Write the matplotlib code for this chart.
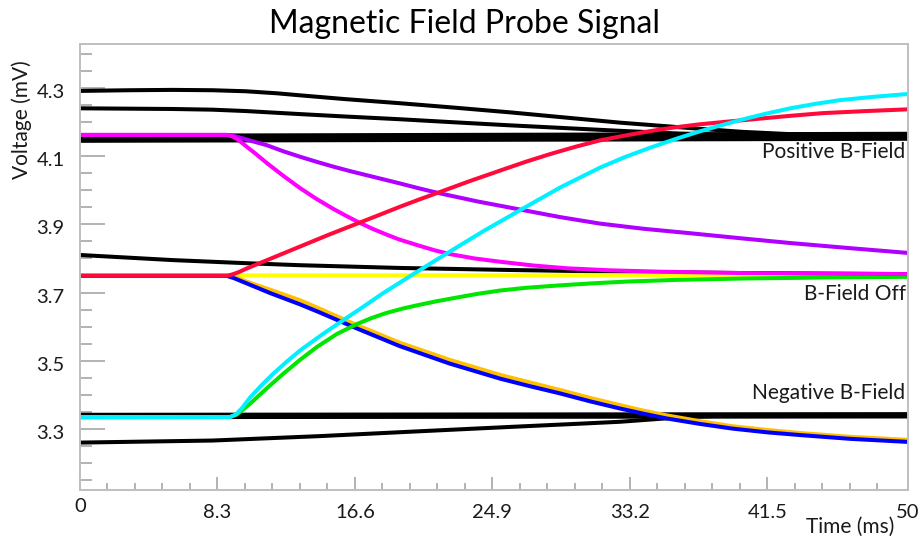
import matplotlib

matplotlib.use("Agg")
import matplotlib.pyplot as plt
from matplotlib.transforms import ScaledTranslation

plt.rcParams["font.family"] = ["Lato", "DejaVu Sans"]

# black reference traces
t_pos_a = [0, 3, 5.6, 8, 10, 11.9, 13.3, 16, 19.3, 22.6, 26, 29.3, 32.6, 35, 37.4, 40, 43, 46, 50]
v_pos_a = [4.291, 4.293, 4.294, 4.293, 4.29, 4.284, 4.278, 4.267, 4.255, 4.242, 4.228, 4.213, 4.198, 4.189, 4.18, 4.171, 4.164, 4.161, 4.16]
t_pos_b = [0, 5.6, 8, 10, 13.3, 16, 19.3, 22.6, 26, 29.3, 32.6, 36.2, 39, 42, 50]
v_pos_b = [4.24, 4.238, 4.236, 4.232, 4.223, 4.216, 4.208, 4.199, 4.19, 4.182, 4.174, 4.166, 4.163, 4.161, 4.159]
t_pos_band = [0, 25, 50]
v_pos_band = [4.152, 4.155, 4.158]
t_off = [0, 5.6, 10, 13.3, 19.3, 26, 32.6, 40, 50]
v_off = [3.81, 3.795, 3.786, 3.78, 3.772, 3.766, 3.761, 3.757, 3.754]
t_neg_band = [0, 25, 50]
v_neg_band = [3.338, 3.339, 3.34]
t_neg_b = [0, 8, 14.5, 20, 26, 30, 32.6, 34, 35.4, 37, 38.5, 50]
v_neg_b = [3.26, 3.266, 3.279, 3.292, 3.306, 3.315, 3.321, 3.326, 3.331, 3.336, 3.338, 3.34]

# coloured traces
t_yellow = [0, 50]
v_yellow = [3.75, 3.751]
t_orange = [0, 8.85, 9.3, 10, 11.5, 13.3, 14.5, 16.6, 19.3, 22.3, 25.4, 27.2, 29, 30.8, 32.6,
            34, 35.4, 37.4, 39.4, 41.5, 43.5, 46.5, 50]
v_orange = [3.749, 3.749, 3.747, 3.733, 3.708, 3.677, 3.652, 3.607, 3.553, 3.503, 3.458, 3.436, 3.414,
            3.391, 3.37, 3.354, 3.34, 3.323, 3.308, 3.297, 3.288, 3.277, 3.268]
t_blue = [0, 8.85, 9.3, 10, 11.5, 13.3, 14.5, 16.6, 19.3, 22.3, 25.4, 27.2, 29, 30.8, 32.6,
          34, 35.4, 37.4, 39.4, 41.5, 43.5, 46.5, 50]
v_blue = [3.749, 3.749, 3.742, 3.728, 3.698, 3.665, 3.641, 3.597, 3.543, 3.492, 3.447, 3.425, 3.404,
          3.381, 3.36, 3.345, 3.331, 3.315, 3.301, 3.29, 3.282, 3.271, 3.262]
t_green = [0, 9.06, 9.5, 10.27, 11.3, 12.28, 13.3, 14.3, 15.5, 16.7, 17.6, 18.5, 19.5, 20.5, 21.5,
           22.5, 24, 25.4, 27, 29, 31, 33, 36, 40, 45, 50]
v_green = [3.335, 3.335, 3.343, 3.374, 3.42, 3.462, 3.503, 3.54, 3.578, 3.607, 3.625, 3.64, 3.653,
           3.664, 3.674, 3.683, 3.696, 3.706, 3.714, 3.721, 3.727, 3.732, 3.737, 3.741, 3.744, 3.746]
t_purple = [0, 8.85, 9.2, 9.6, 10.3, 11.27, 12.28, 13.29, 14.3, 15.3, 16.3, 17.3, 18.3, 19.3, 20.5,
            21.7, 24, 26.6, 29, 31.4, 34, 36.8, 39.9, 42.9, 46.5, 50]
v_purple = [4.162, 4.162, 4.16, 4.155, 4.145, 4.132, 4.114, 4.098, 4.083, 4.069, 4.056, 4.044, 4.032,
            4.02, 4.005, 3.991, 3.967, 3.943, 3.921, 3.902, 3.887, 3.874, 3.859, 3.845, 3.83, 3.816]
t_magenta = [0, 8.85, 9.2, 9.6, 10, 10.6, 11.27, 12.28, 13.29, 14.29, 15.3, 16.1, 16.9, 17.7, 18.5,
             19.3, 20.5, 21.4, 22.3, 23.8, 25.4, 27.4, 29.4, 32, 35, 40, 45, 50]
v_magenta = [4.162, 4.162, 4.158, 4.146, 4.13, 4.107, 4.08, 4.042, 4.006, 3.974, 3.945, 3.924, 3.904,
             3.886, 3.87, 3.855, 3.837, 3.824, 3.813, 3.8, 3.79, 3.779, 3.771, 3.765, 3.761, 3.757,
             3.755, 3.754]
t_red = [0, 8.85, 9.2, 9.6, 10, 11, 12, 13, 14, 15, 16, 17, 18, 19.3, 20.5, 21.7, 23.5, 25.4, 26.9,
         28.4, 29.9, 31.4, 32.9, 34.4, 35.9, 37.4, 39.1, 40.9, 42.9, 44.9, 47.5, 50]
v_red = [3.749, 3.749, 3.753, 3.76, 3.769, 3.789, 3.809, 3.829, 3.849, 3.869, 3.888, 3.907, 3.926,
         3.951, 3.973, 3.994, 4.026, 4.058, 4.083, 4.106, 4.127, 4.146, 4.16, 4.173, 4.184, 4.193,
         4.201, 4.209, 4.218, 4.226, 4.232, 4.237]
t_cyan = [0, 9.06, 9.4, 9.8, 10.27, 10.9, 11.67, 12.5, 13.29, 14.6, 15.9, 17.1, 18.3, 20, 21.2, 22.3,
          24.4, 26.6, 29, 31.4, 32.9, 34.4, 35.9, 37.4, 38.7, 39.9, 41.4, 42.9, 44.4, 45.9, 48, 50]
v_cyan = [3.335, 3.335, 3.342, 3.362, 3.392, 3.425, 3.462, 3.498, 3.53, 3.576, 3.619, 3.658, 3.698,
          3.75, 3.786, 3.819, 3.881, 3.942, 4.008, 4.066, 4.097, 4.124, 4.149, 4.172, 4.19, 4.206,
          4.224, 4.24, 4.253, 4.264, 4.274, 4.282]

x_major = [0, 8.3, 16.6, 24.9, 33.2, 41.5, 50]
x_major_labels = ["0", "8.3", "16.6", "24.9", "33.2", "41.5", "50"]
y_major = [3.3, 3.5, 3.7, 3.9, 4.1, 4.3]

annotations = [("Positive B-Field", 4.113), ("B-Field Off", 3.697), ("Negative B-Field", 3.404)]

fig = plt.figure(figsize=(9.22, 5.4), dpi=100)
ax = fig.add_axes([80 / 922, 1 - 490 / 540, 828 / 922, 446.5 / 540])

lw = 2.9
ax.plot(t_pos_band, v_pos_band, color="black", lw=6.5)
ax.plot(t_neg_band, v_neg_band, color="black", lw=4.6)
for t, v in [(t_pos_a, v_pos_a), (t_pos_b, v_pos_b), (t_off, v_off), (t_neg_b, v_neg_b)]:
    ax.plot(t, v, color="black", lw=lw, solid_joinstyle="round")

coloured = [
    (t_yellow, v_yellow, "#ffff00"),
    (t_orange, v_orange, "#ffc000"),
    (t_blue, v_blue, "#0000ff"),
    (t_green, v_green, "#00e600"),
    (t_purple, v_purple, "#b000ff"),
    (t_magenta, v_magenta, "#ff00ff"),
    (t_red, v_red, "#ff0a3a"),
    (t_cyan, v_cyan, "#00f0ff"),
]
for t, v, c in coloured:
    ax.plot(t, v, color=c, lw=lw, solid_joinstyle="round", solid_capstyle="butt")

ax.set_xlim(0, 50)
ax.set_ylim(3.121, 4.43)

ax.set_xticks(x_major)
ax.set_xticklabels(x_major_labels)
ax.set_xticks([i * 1.66 for i in range(31) if i % 5 != 0], minor=True)
ax.set_yticks(y_major)
ax.set_yticklabels([f"{v:.1f}" for v in y_major])
ax.set_yticks([3.15 + 0.05 * i for i in range(26) if (i - 3) % 4 != 0], minor=True)

spine_c = "#bfbfbf"
for s in ax.spines.values():
    s.set_color(spine_c)
    s.set_linewidth(1.4)
ax.tick_params(axis="both", which="both", direction="in", color="#a6a6a6", width=1.2,
               labelsize=14.5, labelcolor="#1a1a1a")
ax.tick_params(axis="x", which="major", length=9.5, pad=10)
ax.tick_params(axis="x", which="minor", length=5)
ax.tick_params(axis="y", which="major", length=18, pad=11)
ax.tick_params(axis="y", which="minor", length=8.5)

# small label nudges to follow the original
for lbl in ax.get_yticklabels():
    lbl.set_transform(lbl.get_transform() + ScaledTranslation(0, -3 / 100, fig.dpi_scale_trans))
xl = ax.get_xticklabels()
xl[0].set_transform(xl[0].get_transform() + ScaledTranslation(0, 6 / 100, fig.dpi_scale_trans))

for text, yv in annotations:
    ax.text(49.85, yv, text, ha="right", va="center", fontsize=15, color="#1a1a1a")

fig.text(464 / 922, 1 - 33 / 540, "Magnetic Field Probe Signal", ha="center", va="baseline",
         fontsize=23, color="black")
fig.text(850 / 922, 1 - 527 / 540, "Time (ms)", ha="center", va="center", fontsize=15,
         color="#1a1a1a")
fig.text(22 / 922, 1 - 120 / 540, "Voltage (mV)", ha="center", va="center", rotation=90,
         fontsize=15, color="#1a1a1a")

fig.savefig("out.png", dpi=100)
